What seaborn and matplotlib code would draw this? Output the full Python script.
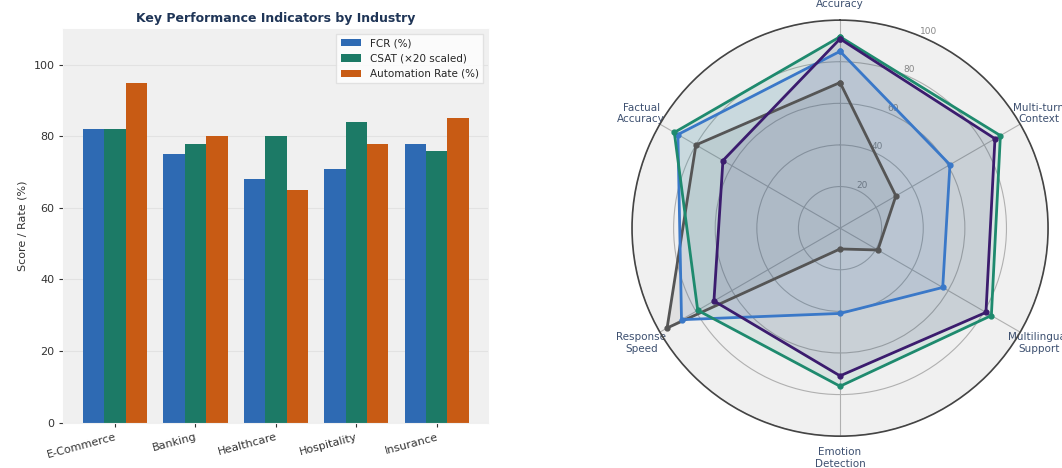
import numpy as np
import pandas as pd
import seaborn as sns
import matplotlib
matplotlib.use("Agg")
import matplotlib.pyplot as plt

# bar chart data
industries = ["E-Commerce", "Banking", "Healthcare", "Hospitality", "Insurance"]
fcr = [82, 75, 68, 71, 78]
csat_scaled = [82, 78, 80, 84, 76]
automation = [95, 80, 65, 78, 85]
kpi_names = ["FCR (%)", "CSAT (\u00d720 scaled)", "Automation Rate (%)"]
kpi_colors = ["#2E6AB3", "#1C7A66", "#C85B14"]

# radar data
radar_labels = ["Intent\nAccuracy", "Multi-turn\nContext", "Multilingual\nSupport",
                "Emotion\nDetection", "Response\nSpeed", "Factual\nAccuracy"]
radar_teal = [92, 89, 84, 76, 79, 92]
radar_purple = [91, 86, 81, 71, 70, 65]
radar_blue = [85, 61, 57, 41, 88, 90]
radar_gray = [70, 31, 21, 10, 96, 80]
radar_ticks = [20, 40, 60, 80, 100]

sns.set_style("darkgrid", {"axes.facecolor": "#f0f0f0", "grid.color": "#e2e2e2",
                           "axes.edgecolor": "#f0f0f0"})
plt.rcParams["font.family"] = ["DejaVu Sans"]

fig = plt.figure(figsize=(10.62, 4.68), dpi=100)

# ---- left: grouped bars
ax = fig.add_axes([0.0597, 0.097, 0.40, 0.841])
df = pd.DataFrame({
    "industry": industries * 3,
    "kpi": [kpi_names[0]] * 5 + [kpi_names[1]] * 5 + [kpi_names[2]] * 5,
    "value": fcr + csat_scaled + automation,
})
sns.barplot(data=df, x="industry", y="value", hue="kpi", palette=kpi_colors,
            width=0.8, linewidth=0, saturation=1, ax=ax)
ax.set_xlim(-0.64, 4.64)
ax.set_ylim(0, 110)
ax.set_yticks([0, 20, 40, 60, 80, 100])
ax.set_xlabel("")
ax.set_ylabel("Score / Rate (%)", fontsize=8, color="#333333")
ax.set_title("Key Performance Indicators by Industry", fontsize=9, fontweight="bold",
             color="#1f3557", pad=5)
ax.tick_params(axis="both", labelsize=8, length=3, width=0.8, colors="#333333",
               bottom=True, left=True)
plt.setp(ax.get_xticklabels(), rotation=15, ha="right", rotation_mode="anchor")
ax.grid(axis="x", visible=False)
leg = ax.legend(loc="upper right", fontsize=7.5, frameon=True, fancybox=False,
                borderpad=0.4, handlelength=2.0)
leg.get_frame().set_facecolor("white")
leg.get_frame().set_edgecolor("#dddddd")

# ---- right: radar
pax = fig.add_axes([0.595, 0.068, 0.392, 0.889], projection="polar")
n = len(radar_labels)
angles = np.linspace(0, 2 * np.pi, n, endpoint=False)
closed = np.append(angles, angles[0])
pax.set_theta_offset(np.pi / 2)
pax.set_theta_direction(-1)
pax.set_facecolor("#f0f0f0")

series = [(radar_gray, "#555555"), (radar_blue, "#3A78C8"),
          (radar_teal, "#1E8A6E"), (radar_purple, "#3B1C6E")]
for vals, col in series:
    v = np.append(vals, vals[0])
    pax.plot(closed, v, color=col, linewidth=2, marker="o", markersize=3.5)
    pax.fill(closed, v, color=col, alpha=0.1)

pax.set_ylim(0, 100)
pax.set_yticks(radar_ticks)
pax.set_yticklabels([str(t) for t in radar_ticks], fontsize=6.5, color="#888888")
pax.set_rlabel_position(22.5)
pax.set_xticks(angles)
pax.set_xticklabels(radar_labels, fontsize=7.5, color="#3d5070")
pax.tick_params(axis="x", pad=5)
pax.grid(color="#b0b0b0", linewidth=0.8)
pax.spines["polar"].set_color("#444444")
pax.spines["polar"].set_linewidth(1.2)

fig.savefig("out.png", dpi=100)
